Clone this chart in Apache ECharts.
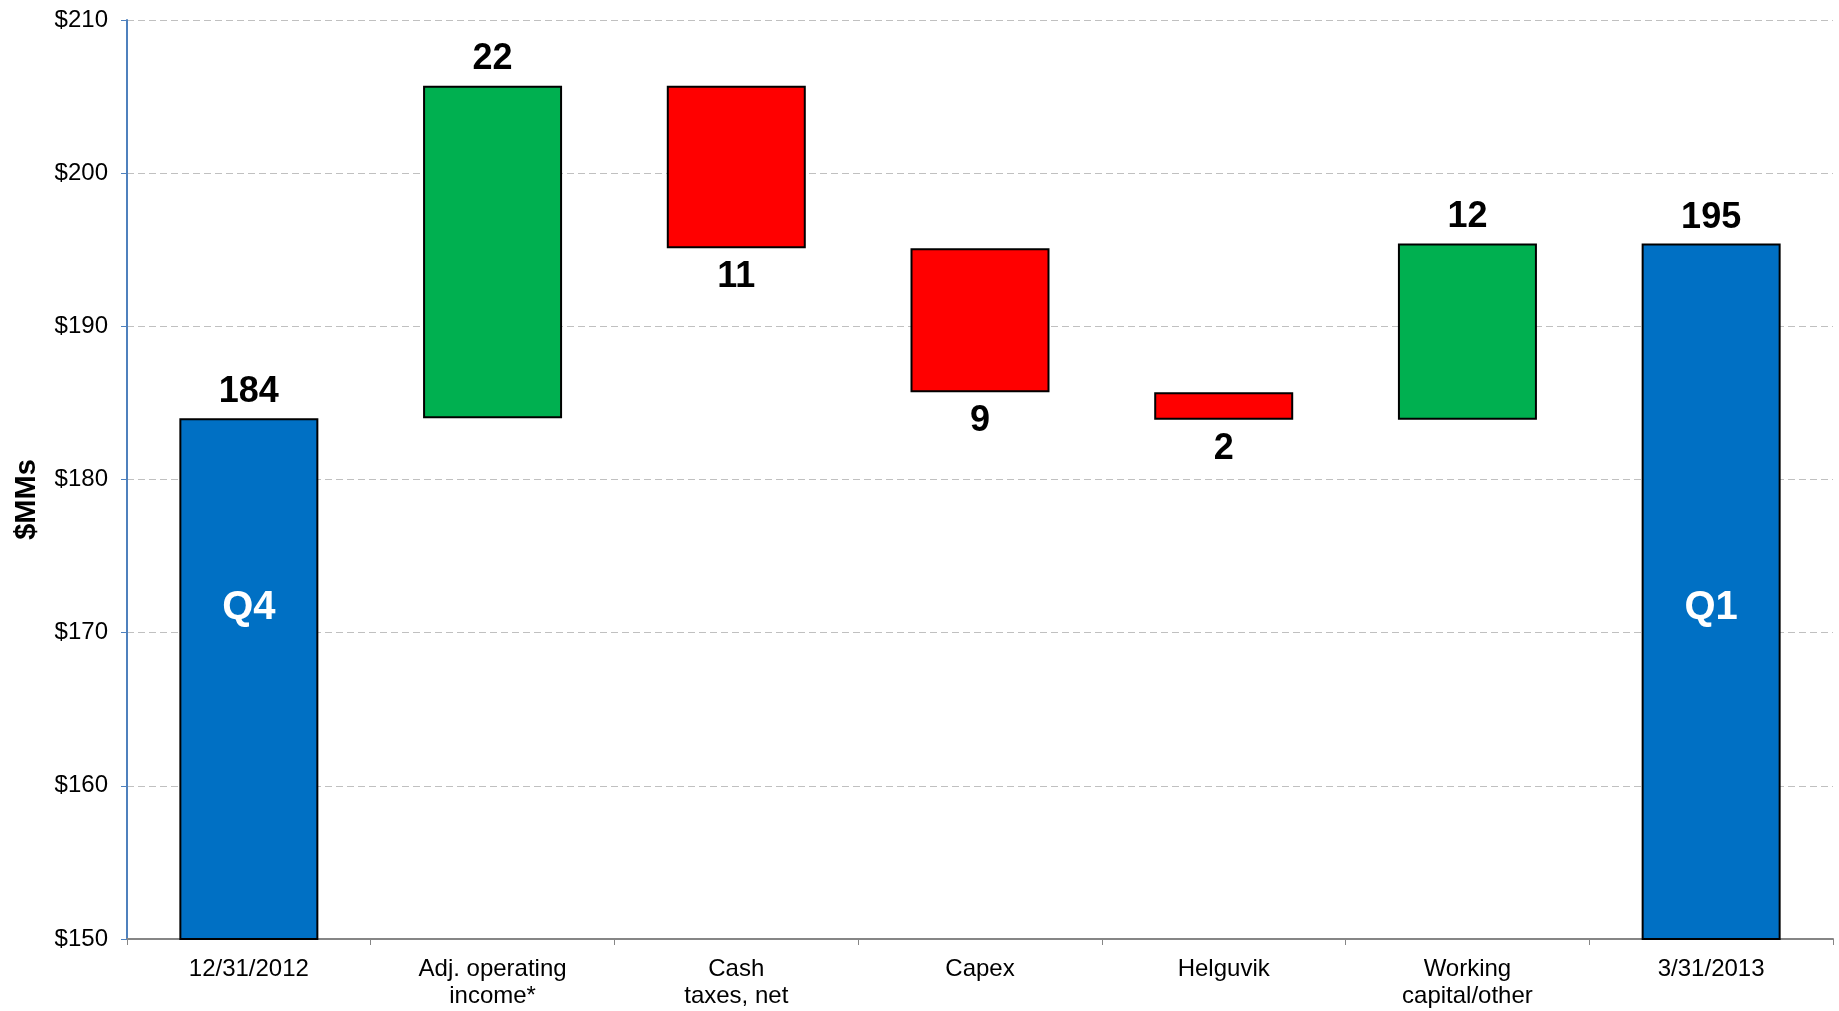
<!DOCTYPE html>
<html>
<head>
<meta charset="utf-8">
<script src="https://cdn.jsdelivr.net/npm/echarts@6/dist/echarts.min.js"></script>
<style>
  html, body { margin: 0; padding: 0; background: #fff; }
  #chart { width: 1839px; height: 1011px; }
</style>
</head>
<body>
<div id="chart"></div>
<script>
const categories = ['12/31/2012', 'Adj. operating\nincome*', 'Cash\ntaxes, net', 'Capex', 'Helguvik', 'Working\ncapital/other', '3/31/2013'];
const startValue = 184.0;
const changes = [21.7, -10.6, -9.4, -1.8, 11.5];
const endValue = 195.4;
const quarterNames = ['Q4', 'Q1'];
const quarterLabelLevel = 171.6;

const FONT = "'Liberation Sans', Arial, sans-serif";
const BLUE = '#0070C4', GREEN = '#00B050', RED = '#FF0000';

// stacked waterfall: transparent base + visible part
let baseData = [0];
let barData = [{ value: startValue, itemStyle: { color: BLUE }, label: { position: 'top' } }];
let running = startValue;
changes.forEach(function (d) {
  const low = Math.min(running, running + d);
  baseData.push(low);
  barData.push({
    value: Math.abs(d),
    itemStyle: { color: d > 0 ? GREEN : RED },
    label: d > 0 ? { position: 'top', distance: 9 } : { position: 'bottom', distance: 11 }
  });
  running += d;
});
baseData.push(0);
barData.push({ value: endValue, itemStyle: { color: BLUE }, label: { position: 'top' } });

const quarterPoints = [
  [categories[0], quarterLabelLevel, quarterNames[0]],
  [categories[categories.length - 1], quarterLabelLevel, quarterNames[1]]
];

const chart = echarts.init(document.getElementById('chart'));
chart.setOption({
  animation: false,
  textStyle: { fontFamily: FONT },
  grid: { left: 127, right: 6, top: 20, bottom: 72 },
  xAxis: {
    type: 'category',
    data: categories,
    axisLine: { lineStyle: { color: '#868686', width: 2 } },
    axisTick: { show: true, length: 6, lineStyle: { color: '#868686', width: 1 } },
    axisLabel: { color: '#000', fontSize: 24, lineHeight: 27, margin: 17, fontFamily: FONT, interval: 0 }
  },
  yAxis: {
    type: 'value',
    min: 150,
    max: 210,
    interval: 10,
    name: '$MMs',
    nameLocation: 'middle',
    nameGap: 86,
    nameTextStyle: { color: '#000', fontSize: 29, fontWeight: 'bold', fontFamily: FONT, padding: [0, 40, 0, 0] },
    axisLine: { show: true, lineStyle: { color: '#4F81BD', width: 2 } },
    axisTick: { show: true, length: 6, lineStyle: { color: '#4F81BD', width: 1 } },
    axisLabel: { color: '#000', fontSize: 24, margin: 19, fontFamily: FONT, formatter: '${value}' },
    splitLine: { lineStyle: { color: '#C0C0C0', type: [7, 4], width: 1 } }
  },
  series: [
    {
      type: 'bar',
      stack: 'wf',
      silent: true,
      barWidth: 139,
      itemStyle: { color: 'transparent' },
      data: baseData
    },
    {
      type: 'bar',
      stack: 'wf',
      barWidth: 139,
      itemStyle: { borderColor: '#000', borderWidth: 2 },
      label: {
        show: true,
        distance: 8,
        color: '#000',
        fontSize: 36,
        fontWeight: 'bold',
        fontFamily: FONT,
        formatter: function (p) { return Math.round(p.value); }
      },
      data: barData
    },
    {
      type: 'scatter',
      symbolSize: 1,
      silent: true,
      z: 10,
      itemStyle: { color: 'transparent', opacity: 1 },
      label: {
        show: true,
        position: 'inside',
        color: '#FFFFFF',
        opacity: 1,
        fontSize: 40,
        fontWeight: 'bold',
        fontFamily: FONT,
        formatter: function (p) { return p.value[2]; }
      },
      data: quarterPoints
    }
  ]
});
</script>
</body>
</html>
